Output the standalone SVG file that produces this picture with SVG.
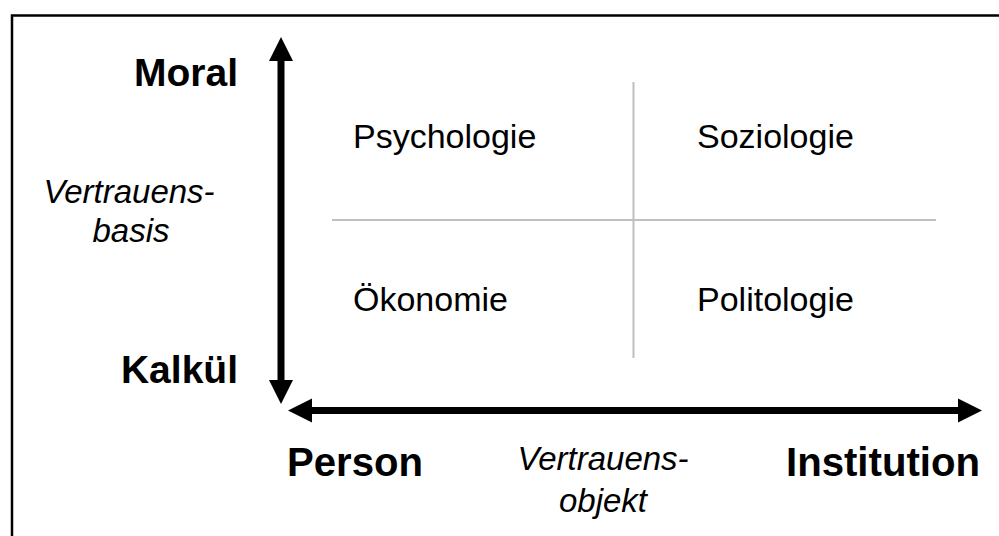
<svg xmlns="http://www.w3.org/2000/svg" width="999" height="536" viewBox="0 0 999 536">
<style>
.b{font-family:"Liberation Sans",Arial,sans-serif;font-weight:bold;font-size:39px;fill:#000}
.bb{font-size:41px}
.i{font-family:"Liberation Sans",Arial,sans-serif;font-style:italic;font-size:33px;fill:#000}
.r{font-family:"Liberation Sans",Arial,sans-serif;font-size:34px;fill:#000}
.grid{stroke:#c0c0c0;stroke-width:2;fill:none}
.arrow{stroke:#000;stroke-width:7;fill:none;marker-start:url(#head);marker-end:url(#head)}
</style>
<defs>
<marker id="head" markerUnits="userSpaceOnUse" markerWidth="24" markerHeight="24" refX="0" refY="12" orient="auto-start-reverse" overflow="visible">
<path d="M0,0 L24,12 L0,24 Z" fill="#000"/>
</marker>
</defs>
<rect x="0" y="0" width="999" height="536" fill="#fff"/>
<rect x="12" y="15.5" width="1000" height="540" fill="none" stroke="#000" stroke-width="2.5"/>
<g id="grid">
<line class="grid" x1="633.5" y1="82" x2="633.5" y2="358"/>
<line class="grid" x1="332" y1="220" x2="936" y2="220"/>
</g>
<g id="connectors">
<line class="arrow" x1="281" y1="61" x2="281" y2="380"/>
<line class="arrow" x1="312" y1="410.5" x2="958" y2="410.5"/>
</g>
<g id="moral"><text class="b" x="238" y="86" text-anchor="end">Moral</text></g>
<g id="kalkuel"><text class="b" x="238" y="383" text-anchor="end">Kalkül</text></g>
<g id="vertrauensbasis"><text class="i" text-anchor="middle"><tspan x="129" y="203">Vertrauens-</tspan><tspan x="131" y="242">basis</tspan></text></g>
<g id="psychologie"><text class="r" x="353" y="148">Psychologie</text></g>
<g id="soziologie"><text class="r" x="697" y="148">Soziologie</text></g>
<g id="oekonomie"><text class="r" x="353" y="311">Ökonomie</text></g>
<g id="politologie"><text class="r" x="697" y="311">Politologie</text></g>
<g id="person"><text class="b bb" x="287" y="476" textLength="136" lengthAdjust="spacingAndGlyphs">Person</text></g>
<g id="institution"><text class="b bb" x="786" y="476" textLength="194" lengthAdjust="spacingAndGlyphs">Institution</text></g>
<g id="vertrauensobjekt"><text class="i" text-anchor="middle"><tspan x="603" y="470">Vertrauens-</tspan><tspan x="603" y="512">objekt</tspan></text></g>
</svg>
